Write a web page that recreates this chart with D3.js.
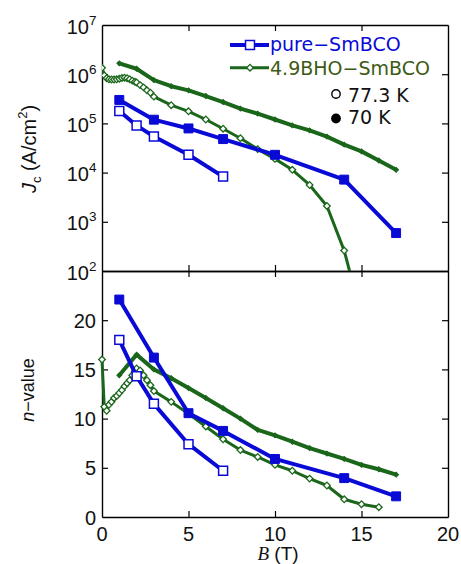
<!DOCTYPE html>
<html><head><meta charset="utf-8">
<script src="https://cdn.jsdelivr.net/npm/d3@7"></script>
<style>body{margin:0;background:#fff}svg{display:block}</style>
</head><body>
<svg id="c" width="461" height="564"></svg>
<script>
// ---- data ----
const xTicks = [0, 5, 10, 15, 20];
const jcTicks = [1e2, 1e3, 1e4, 1e5, 1e6, 1e7];
const nTicks = [0, 5, 10, 15, 20];

// pure-SmBCO 77.3 K
const pure77B  = [1, 2, 3, 5, 7];
const pure77Jc = [1.78e5, 9.1e4, 5.4e4, 2.3e4, 8.3e3];
const pure77n  = [18.0, 14.3, 11.5, 7.4, 4.7];
// pure-SmBCO 70 K
const pure70B  = [1, 3, 5, 7, 10, 14, 17];
const pure70Jc = [3.0e5, 1.19e5, 7.9e4, 4.8e4, 2.3e4, 7.2e3, 5.9e2];
const pure70n  = [22.1, 16.2, 10.55, 8.75, 5.9, 3.95, 2.1];
// 4.9BHO-SmBCO 77.3 K
const bho77B  = [0, 0.13, 0.27, 0.4, 0.55, 0.7, 0.85, 1.0, 1.15, 1.3, 1.45, 1.6, 1.75, 1.9, 2.0, 2.2, 2.4, 2.6, 2.8, 3,
                 4, 5, 6, 7, 8, 9, 10, 11, 12, 13, 14, 15, 16];
const bho77Jc = [1.35e6, 9.5e5, 8.3e5, 7.9e5, 7.8e5, 7.8e5, 7.9e5, 8.1e5, 8.4e5, 8.5e5, 8.3e5, 7.9e5, 7.4e5, 7.0e5, 6.8e5, 6.0e5, 5.4e5, 4.7e5, 4.2e5, 3.5e5,
                 2.35e5, 1.76e5, 1.2e5, 7.8e4, 5.0e4, 3.0e4, 1.9e4, 1.14e4, 5.6e3, 2.1e3, 2.6e2, 12, null];
const bho77n  = [16.0, 11.2, 10.8, 11.4, 11.7, 12.1, 12.3, 12.6, 12.9, 13.3, 13.6, 13.9, 14.4, 14.8, 15.1, 14.9, 14.4, 13.9, 13.4, 12.8,
                 11.7, 10.5, 9.2, 7.9, 6.8, 6.1, 5.3, 4.7, 3.9, 3.2, 1.8, 1.3, 1.0];
// 4.9BHO-SmBCO 70 K
const bho70B  = [1, 2, 3, 4, 5, 6, 7, 8, 9, 10, 11, 12, 13, 14, 15, 16, 17];
const bho70Jc = [1.66e6, 1.29e6, 7.6e5, 5.7e5, 4.7e5, 3.6e5, 2.72e5, 2.0e5, 1.58e5, 1.2e5, 9.1e4, 7.2e4, 5.4e4, 3.7e4, 2.7e4, 1.76e4, 1.14e4];
const bho70n  = [14.4, 16.5, 15.0, 14.1, 13.1, 12.1, 11.05, 10.0, 8.85, 8.3, 7.65, 7.0, 6.45, 5.9, 5.3, 4.85, 4.3];

const legendNames = ["pure\u2212SmBCO", "4.9BHO\u2212SmBCO"];
const tempNames = ["77.3 K", "70 K"];

// ---- style ----
const BLUE = "#0a0ad6", GREEN = "#1a661a", GTEXT = "#3d5a14";
const svg = d3.select("#c");
const L = 102, R = 448, T = 25, M = 271, Bt = 517;

const x = d3.scaleLinear([0, 20], [L, R]);
const yJ = d3.scaleLog([1e2, 1e7], [M, T]);
const yN = d3.scaleLinear([0, 25], [Bt, M]);

const defs = svg.append("defs");
defs.append("clipPath").attr("id", "clipTop").append("rect")
  .attr("x", L).attr("y", T).attr("width", R - L).attr("height", M - T);

const zip = (bs, vs) => bs.map((b, i) => ({b, v: vs[i]})).filter(d => d.v != null);

// ---- axes ----
function axes() {
  const g = svg.append("g").attr("class", "axes");
  const st = sel => sel.call(s => s.selectAll("path,line").attr("stroke", "#000").attr("stroke-width", 1.4));
  // top panel
  g.append("g").attr("transform", `translate(${L},0)`)
    .call(d3.axisLeft(yJ).tickValues(jcTicks.slice(1, -1)).tickSize(-6).tickSizeOuter(0).tickFormat("")).call(st);
  g.append("g").attr("transform", `translate(${R},0)`)
    .call(d3.axisRight(yJ).tickValues(jcTicks.slice(1, -1)).tickSize(-6).tickSizeOuter(0).tickFormat("")).call(st);
  g.append("g").attr("transform", `translate(0,${T})`)
    .call(d3.axisTop(x).tickValues(xTicks.slice(1, -1)).tickSize(-6).tickSizeOuter(0).tickFormat("")).call(st);
  g.append("g").attr("transform", `translate(0,${M})`)
    .call(d3.axisBottom(x).tickValues(xTicks.slice(1, -1)).tickSize(6).tickSizeOuter(0).tickFormat("")).call(st);
  g.append("g").attr("transform", `translate(0,${M})`)
    .call(d3.axisBottom(x).tickValues(xTicks.slice(1, -1)).tickSize(-6).tickSizeOuter(0).tickFormat("")).call(st);
  // bottom panel
  g.append("g").attr("transform", `translate(${L},0)`)
    .call(d3.axisLeft(yN).tickValues(nTicks.slice(1)).tickSize(-6).tickSizeOuter(0).tickFormat("")).call(st);
  g.append("g").attr("transform", `translate(${R},0)`)
    .call(d3.axisRight(yN).tickValues(nTicks.slice(1)).tickSize(-6).tickSizeOuter(0).tickFormat("")).call(st);
  g.append("g").attr("transform", `translate(0,${Bt})`)
    .call(d3.axisBottom(x).tickValues(xTicks.slice(1, -1)).tickSize(-6).tickSizeOuter(0).tickFormat("")).call(st);
  g.selectAll(".tick line").attr("stroke-width", 1.2);

  // labels
  const F = "'Liberation Sans', Arial, sans-serif";
  const lab = svg.append("g").attr("font-family", F).attr("fill", "#111");
  jcTicks.forEach(v => {
    const e = Math.round(Math.log10(v));
    lab.append("text").attr("x", 89).attr("y", yJ(v) + 8.5)
      .attr("text-anchor", "end").attr("font-size", 20).text("10");
    lab.append("text").attr("x", 89).attr("y", yJ(v) - 0.5)
      .attr("font-size", 13.5).text(e);
  });
  nTicks.forEach(v => {
    lab.append("text").attr("x", 96).attr("y", yN(v) + 7.5)
      .attr("text-anchor", "end").attr("font-size", 20).text(v);
  });
  xTicks.forEach(v => {
    lab.append("text").attr("x", x(v)).attr("y", 541)
      .attr("text-anchor", "middle").attr("font-size", 20).text(v);
  });
  // x axis title
  const xt = lab.append("text").attr("x", 278).attr("y", 560).attr("text-anchor", "middle").attr("font-size", 19);
  xt.append("tspan").attr("font-family", "'Liberation Serif', serif").attr("font-style", "italic").text("B");
  xt.append("tspan").text(" (T)");
  // y titles
  const yt = lab.append("text").attr("transform", "translate(36,149) rotate(-90)")
    .attr("text-anchor", "middle").attr("font-size", 20);
  yt.append("tspan").attr("font-style", "italic").text("J");
  yt.append("tspan").attr("font-size", 13).attr("dy", 5).text("c");
  yt.append("tspan").attr("dy", -5).text(" (A/cm");
  yt.append("tspan").attr("font-size", 13).attr("dy", -9).text("2");
  yt.append("tspan").attr("dy", 9).text(")");
  const nt = lab.append("text").attr("transform", "translate(34,390) rotate(-90)")
    .attr("text-anchor", "middle").attr("font-size", 18);
  nt.append("tspan").attr("font-style", "italic").text("n");
  nt.append("tspan").text("\u2212value");
}

// ---- series ----
function markerTransform(opt, px, py) {
  return opt.rot ? `translate(${px},${py}) rotate(45)` : `translate(${px},${py})`;
}
function series(g, data, yS, opt) {
  const line = d3.line().x(d => x(d.b)).y(d => yS(d.v));
  g.append("path").datum(data).attr("d", line).attr("fill", "none")
    .attr("stroke", opt.color).attr("stroke-width", opt.lw).attr("stroke-linejoin", "round");
  g.append("g").selectAll("path").data(data).join("path")
    .attr("transform", d => markerTransform(opt, x(d.b), yS(d.v)))
    .attr("d", d3.symbol(d3.symbolSquare, opt.size)())
    .attr("fill", opt.fill).attr("stroke", opt.color).attr("stroke-width", opt.sw);
}

axes();

const topG = svg.append("g").attr("clip-path", "url(#clipTop)");
const botG = svg.append("g");

const sBho70 = {color: GREEN, lw: 4, rot: true, size: 12, fill: GREEN, sw: 1};
const sBho77 = {color: GREEN, lw: 3, rot: true, size: 22, fill: "#fff", sw: 1.3};
const sPure70 = {color: BLUE, lw: 4, rot: false, size: 80, fill: BLUE, sw: 1};
const sPure77 = {color: BLUE, lw: 4, rot: false, size: 80, fill: "#fff", sw: 1.5};

series(topG, zip(bho70B, bho70Jc), yJ, sBho70);
series(topG, zip(bho77B, bho77Jc), yJ, sBho77);
series(topG, zip(pure70B, pure70Jc), yJ, sPure70);
series(topG, zip(pure77B, pure77Jc), yJ, sPure77);

series(botG, zip(bho70B, bho70n), yN, sBho70);
series(botG, zip(bho77B, bho77n), yN, sBho77);
series(botG, zip(pure70B, pure70n), yN, sPure70);
series(botG, zip(pure77B, pure77n), yN, sPure77);

// ---- legend ----
const LF = "'DejaVu Sans', sans-serif";
const leg = svg.append("g");
[[sPure77, 45, legendNames[0], BLUE, 50.5], [sBho77, 67.7, legendNames[1], GTEXT, 75]].forEach(([s, y, name, tc, by]) => {
  leg.append("line").attr("x1", 230).attr("x2", 269).attr("y1", y).attr("y2", y)
    .attr("stroke", s.color).attr("stroke-width", s.lw);
  leg.append("path").attr("d", d3.symbol(d3.symbolSquare, s.size)())
    .attr("fill", "#fff").attr("stroke", s.color).attr("stroke-width", s.sw)
    .attr("transform", markerTransform(s, 250, y));
  leg.append("text").attr("x", 270).attr("y", by).attr("font-family", LF).attr("font-size", 19)
    .attr("fill", tc).text(name);
});
[[94, "#fff", tempNames[0], 101.5], [118.5, "#000", tempNames[1], 124]].forEach(([y, f, name, by]) => {
  leg.append("circle").attr("cx", 336).attr("cy", y).attr("r", 4.2)
    .attr("fill", f).attr("stroke", "#000").attr("stroke-width", 1.4);
  leg.append("text").attr("x", 348).attr("y", by).attr("font-family", LF).attr("font-size", 19)
    .attr("fill", "#111").text(name);
});
</script>
</body></html>
